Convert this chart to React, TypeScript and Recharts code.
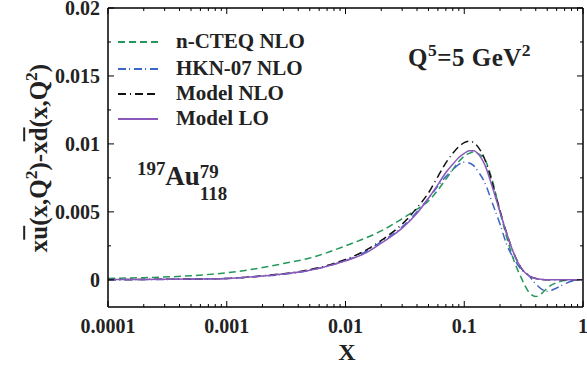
import React from "react";
import { LineChart, Line, XAxis, YAxis, ReferenceLine, Legend } from "recharts";

// x grid (log) and curves
const xs = [
  0.0001, 0.0002, 0.0005, 0.001, 0.002, 0.003, 0.005, 0.007, 0.01, 0.015, 0.02, 0.03,
  0.04, 0.05, 0.06, 0.07, 0.08, 0.09, 0.1, 0.11, 0.12, 0.13, 0.15, 0.17, 0.2, 0.23,
  0.26, 0.3, 0.35, 0.4, 0.45, 0.5, 0.6, 0.7, 0.8, 1,
];
const cteqNlo = [
  0.0001, 0.00016, 0.0003, 0.00052, 0.0009, 0.0012, 0.0016, 0.002, 0.0025, 0.0031, 0.0036, 0.0045,
  0.0052, 0.0058, 0.0066, 0.0074, 0.0081, 0.0087, 0.0091, 0.0093, 0.0094, 0.0093, 0.0088, 0.0075, 0.005, 0.003,
  0.0015, 0.0002, -0.0009, -0.00123, -0.001, -0.0006, -0.0002, -0.00005, 0, 0,
];
const hknNlo = [
  0, 0.00002, 0.00005, 0.0001, 0.00027, 0.0004, 0.0007, 0.001, 0.0014, 0.0021, 0.0028, 0.0039,
  0.005, 0.006, 0.0069, 0.0076, 0.0081, 0.0085, 0.00865, 0.0086, 0.0084, 0.008, 0.0071, 0.0058, 0.0041, 0.0025,
  0.0016, 0.0008, 0.0003, -0.0003, -0.0007, -0.00085, -0.0006, -0.0003, -0.0001, 0,
];
const modelNlo = [
  0.00001, 0.00003, 0.00006, 0.0001, 0.0003, 0.00045, 0.00075, 0.00105, 0.0015, 0.0022, 0.0029, 0.0041,
  0.0053, 0.0064, 0.0076, 0.0086, 0.0093, 0.0098, 0.0101, 0.0102, 0.0101, 0.0098, 0.0088, 0.0073, 0.0051, 0.0033,
  0.002, 0.0009, 0.0003, 0.0001, 0.00003, 0, 0, 0, 0, 0,
];
const modelLo = [
  0.00002, 0.00003, 0.00006, 0.0001, 0.00028, 0.00042, 0.0007, 0.001, 0.0014, 0.002, 0.0027, 0.0038,
  0.0049, 0.006, 0.007, 0.0079, 0.0085, 0.009, 0.0093, 0.0095, 0.0095, 0.0093, 0.0084, 0.007, 0.005, 0.0033,
  0.002, 0.0009, 0.0003, 0.0001, 0.00003, 0, 0, 0, 0, 0,
];

const xMajor = [0.0001, 0.001, 0.01, 0.1, 1];
const xMinor = [0.0001, 0.001, 0.01, 0.1].flatMap((d) => [2, 3, 4, 5, 6, 7, 8, 9].map((m) => m * d));
const yMajor = [0, 0.005, 0.01, 0.015, 0.02];
const yMinor = [0.0025, 0.0075, 0.0125, 0.0175];

const series = [
  { key: "cteq", name: "n-CTEQ NLO", color: "#23985a", dash: "7 4", values: cteqNlo },
  { key: "hkn", name: "HKN-07 NLO", color: "#3e66c6", dash: "8 3 1 4", values: hknNlo },
  { key: "nlo", name: "Model NLO", color: "#111111", dash: "8 4 1 4 8 4", values: modelNlo },
  { key: "lo", name: "Model LO", color: "#8a58bb", dash: undefined, values: modelLo },
];

const data = xs.map((x, i) => {
  const row: Record<string, number> = { x };
  series.forEach((s) => (row[s.key] = s.values[i]));
  return row;
});

const W = 587;
const H = 369;
const TOP = 8;
const RIGHT = 583;
const FONT = "Liberation Serif";

function XTick(props: any) {
  const { x, y, payload } = props;
  const major = xMajor.includes(payload.value);
  const len = major ? 6 : 3;
  return (
    <g>
      <line x1={x} x2={x} y1={y} y2={y - len} stroke="#000" strokeWidth={1} />
      <line x1={x} x2={x} y1={TOP} y2={TOP + len} stroke="#000" strokeWidth={1} />
      {major && (
        <text x={x} y={y + 26} textAnchor="middle" fontFamily={FONT} fontWeight="bold" fontSize={20} fill="#222">
          {String(payload.value)}
        </text>
      )}
    </g>
  );
}

function YTick(props: any) {
  const { x, y, payload } = props;
  const major = yMajor.includes(payload.value);
  const len = major ? 6 : 3;
  return (
    <g>
      <line x1={x} x2={x + len} y1={y} y2={y} stroke="#000" strokeWidth={1} />
      <line x1={RIGHT - len} x2={RIGHT} y1={y} y2={y} stroke="#000" strokeWidth={1} />
      {major && (
        <text x={x - 8} y={y + 7} textAnchor="end" fontFamily={FONT} fontWeight="bold" fontSize={20} fill="#222">
          {String(payload.value)}
        </text>
      )}
    </g>
  );
}

function LegendBox() {
  return (
    <div style={{ fontFamily: FONT, fontWeight: "bold", fontSize: 21, color: "#222" }}>
      {series.map((s, i) => (
        <div key={s.key} style={{ display: "flex", alignItems: "center", height: 25, marginTop: i === 1 ? 2 : 0 }}>
          <svg width={40} height={6} style={{ marginRight: 18 }}>
            <line x1={0} x2={40} y1={3} y2={3} stroke={s.color} strokeWidth={2} strokeDasharray={s.dash} />
          </svg>
          <span style={{ lineHeight: "25px" }}>{s.name}</span>
        </div>
      ))}
    </div>
  );
}

const ov: React.CSSProperties = { textDecoration: "overline" };
const sup: React.CSSProperties = { fontSize: "0.7em", verticalAlign: "0.55em" };

export default function App() {
  return (
    <div style={{ position: "absolute", left: 0, top: 0, width: W, height: H, background: "#fff" }}>
      <LineChart width={W} height={H} data={data} margin={{ top: TOP, right: W - RIGHT, bottom: 22, left: 48 }}>
        <XAxis
          dataKey="x"
          type="number"
          scale="log"
          domain={[0.0001, 1]}
          allowDataOverflow
          ticks={[...xMajor, ...xMinor]}
          interval={0}
          height={40}
          tickSize={0}
          tickMargin={0}
          tickLine={false}
          tick={<XTick />}
          axisLine={{ stroke: "#000", strokeWidth: 1.5 }}
        />
        <YAxis
          type="number"
          domain={[-0.002, 0.02]}
          allowDataOverflow
          ticks={[...yMajor, ...yMinor]}
          interval={0}
          width={60}
          tickSize={0}
          tickMargin={0}
          tickLine={false}
          tick={<YTick />}
          axisLine={{ stroke: "#000", strokeWidth: 1.5 }}
        />
        <ReferenceLine y={0.02} stroke="#000" strokeWidth={1.5} />
        <ReferenceLine x={1} stroke="#000" strokeWidth={1.5} />
        <Legend
          layout="vertical"
          align="center"
          verticalAlign="middle"
          content={() => <LegendBox />}
          wrapperStyle={{ left: 118, top: 29, width: 220, height: 110 }}
        />
        {series.map((s) => (
          <Line
            key={s.key}
            dataKey={s.key}
            name={s.name}
            type="monotone"
            stroke={s.color}
            strokeWidth={1.5}
            strokeDasharray={s.dash}
            dot={false}
            isAnimationActive={false}
          />
        ))}
      </LineChart>

      <div
        style={{
          position: "absolute",
          left: 37,
          top: 158,
          transform: "translate(-50%, -50%) rotate(-90deg)",
          whiteSpace: "nowrap",
          fontFamily: FONT,
          fontWeight: "bold",
          fontSize: 25,
          color: "#222",
        }}
      >
        x<span style={ov}>u</span>(x,Q<span style={sup}>2</span>)-x<span style={ov}>d</span>(x,Q<span style={sup}>2</span>)
      </div>

      <div
        style={{
          position: "absolute",
          left: 347,
          top: 352,
          transform: "translate(-50%, -50%)",
          fontFamily: FONT,
          fontWeight: "bold",
          fontSize: 24,
          color: "#222",
        }}
      >
        X
      </div>

      <div
        style={{
          position: "absolute",
          left: 408,
          top: 40,
          whiteSpace: "nowrap",
          fontFamily: FONT,
          fontWeight: "bold",
          fontSize: 25,
          letterSpacing: 0.5,
          color: "#222",
        }}
      >
        Q<span style={sup}>5</span>=5 GeV<span style={sup}>2</span>
      </div>

      <div
        style={{
          position: "absolute",
          left: 137,
          top: 158,
          whiteSpace: "nowrap",
          fontFamily: FONT,
          fontWeight: "bold",
          fontSize: 27,
          color: "#222",
        }}
      >
        <span style={sup}>197</span>Au
        <span style={{ display: "inline-block", position: "relative", fontSize: "0.7em", width: 32 }}>
          <span style={{ position: "absolute", left: 0, top: -24 }}>79</span>
          <span style={{ position: "absolute", left: 0, top: -2 }}>118</span>
        </span>
      </div>
    </div>
  );
}
